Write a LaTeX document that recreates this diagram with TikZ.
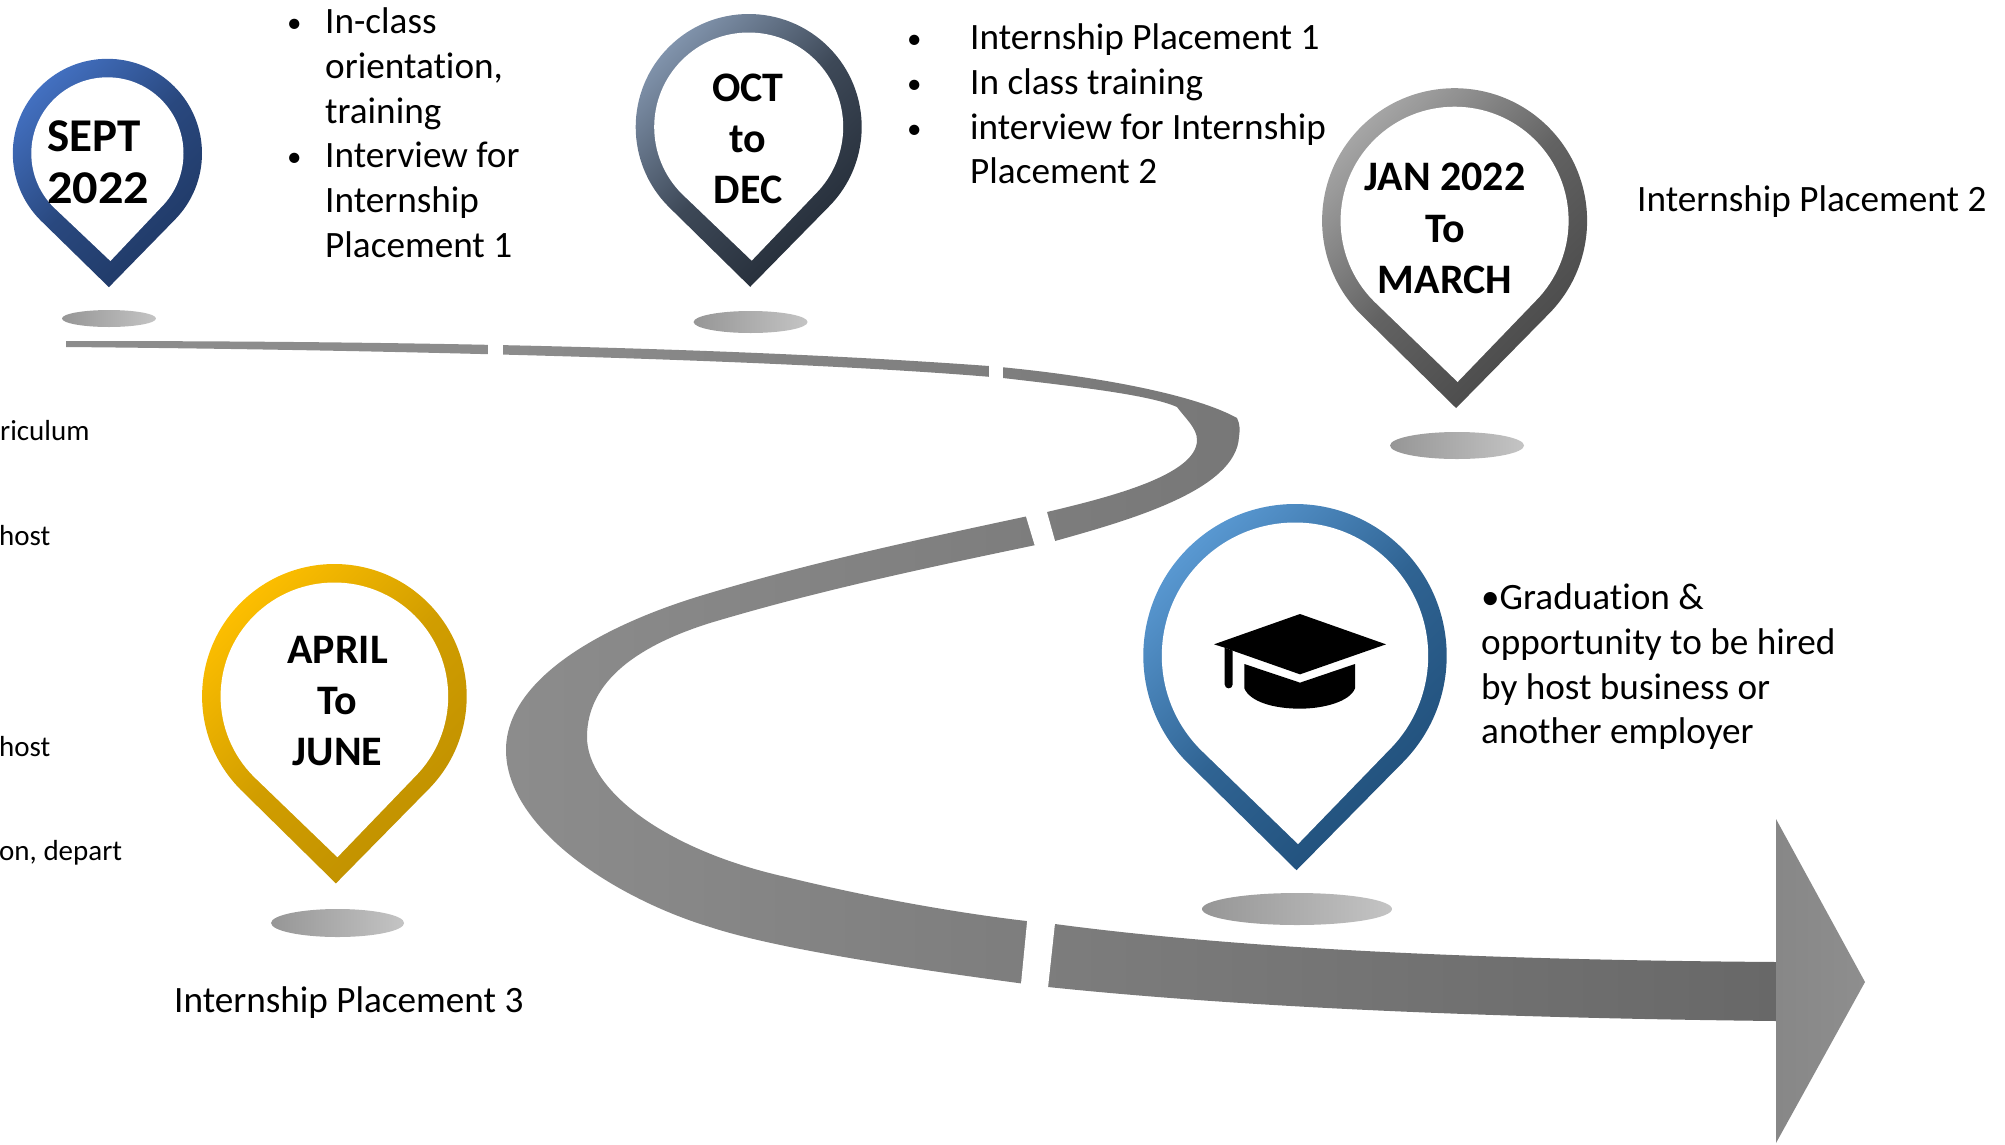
\documentclass[tikz,border=0pt]{standalone}
\usepackage{fontspec}
\usepackage{graphicx}
\setmainfont{Carlito}[Ligatures=NoCommon]
\usetikzlibrary{shapes.geometric}
\definecolor{gA}{HTML}{8C8C8C}
\definecolor{gB}{HTML}{686868}
\definecolor{pOneA}{HTML}{4472C4}\definecolor{pOneB}{HTML}{1F3864}
\definecolor{pTwoA}{HTML}{8497B0}\definecolor{pTwoB}{HTML}{222A35}
\definecolor{pThrA}{HTML}{A9A9A9}\definecolor{pThrB}{HTML}{474747}
\definecolor{pFouA}{HTML}{5B9BD5}\definecolor{pFouB}{HTML}{1F4E79}
\definecolor{pFivA}{HTML}{FFC000}\definecolor{pFivB}{HTML}{BF9000}
\definecolor{shA}{HTML}{969696}\definecolor{shB}{HTML}{C4C4C4}
\definecolor{headA}{HTML}{878787}\definecolor{headB}{HTML}{8E8E8E}
\pgfdeclarehorizontalshading{roadshade}{100bp}{color(0bp)=(gA); color(25bp)=(gA); color(38bp)=(gA); color(75bp)=(gB); color(100bp)=(gB)}
\newcommand{\pinshape}[5]{%
  \shade[left color=#4,right color=#5,middle color=#5!72!#4,shading angle=45]
    ({#1+1.5},{#2+1.4142*#3}) -- ({#1-0.7071*#3},{#2+0.7071*#3})
    arc[start angle=135,end angle=405,radius=#3] -- cycle;
  \fill[white]
    ({#1+3},{#2+1.4142*(#3-18.5)}) -- ({#1-0.7071*(#3-18.5)},{#2+0.7071*(#3-18.5)})
    arc[start angle=135,end angle=405,radius=#3-18.5] -- cycle;
}
\newcommand{\pinshadow}[4]{%
  \shade[left color=shA,right color=shB] (#1,#2) ellipse [x radius=#3,y radius=#4];
}
\newcommand{\smallbul}{\raisebox{1bp}{\fontsize{29bp}{30bp}\selectfont\textbullet}}
\newcommand{\bul}{\makebox[38bp][l]{\smallbul}}
\newcommand{\widebul}{\makebox[63bp][l]{\smallbul}}
\newcommand{\ind}{\hspace*{38bp}}
\tikzset{
  body/.style={font=\fontsize{37.2bp}{44.8bp}\selectfont,align=left,inner sep=0pt,anchor=north west},
  single/.style={font=\fontsize{37.2bp}{44.8bp}\selectfont,inner sep=0pt,anchor=west},
  pinlabel/.style={font=\fontsize{42bp}{51.3bp}\selectfont\bfseries,align=center,inner sep=0pt},
  cutoff/.style={font=\fontsize{29bp}{32bp}\selectfont,inner sep=0pt,anchor=west},
}
\begin{document}
\begin{tikzpicture}[x=1bp,y=1bp,yscale=-1]
\useasboundingbox (0,0) rectangle (2005,1144);
% road
\path[shade,shading=roadshade]
  (66,341) .. controls (350,341) and (700,345) .. (989,366)
  .. controls (1080,374) and (1190,392) .. (1237,418)
  .. controls (1240,424) and (1240,430) .. (1239,437)
  .. controls (1236,490) and (1130,520) .. (1055,541)
  .. controls (930,567) and (820,590) .. (710,623)
  .. controls (640,645) and (587,680) .. (587,737)
  .. controls (587,790) and (665,850) .. (786,877)
  .. controls (880,900) and (980,917) .. (1055,924)
  .. controls (1250,950) and (1500,960) .. (1776,962)
  -- (1776,1021)
  .. controls (1500,1018) and (1250,1008) .. (1048,987)
  .. controls (920,970) and (780,950) .. (710,927)
  .. controls (620,900) and (506,830) .. (506,750)
  .. controls (506,680) and (600,625) .. (710,593)
  .. controls (820,560) and (930,537) .. (1047,512)
  .. controls (1110,497) and (1197,475) .. (1197,440)
  .. controls (1197,428) and (1185,418) .. (1177,407)
  .. controls (1150,395) and (1080,387) .. (1003,378)
  .. controls (800,360) and (400,350) .. (66,347)
  -- cycle;
% gaps
\fill[white] (488,335) rectangle (503,365);
\fill[white] (989,358) rectangle (1003,385);
\fill[white] (1024,510) -- (1037,553) -- (1057,548) -- (1045,505) -- cycle;
\fill[white] (1028,912) -- (1020,994) -- (1047,997) -- (1056,914) -- cycle;
% arrow head
\shade[left color=headA,right color=headB] (1776,819) -- (1865,982) -- (1776,1143) -- cycle;
% shadows
\pinshadow{109}{318.5}{47}{8.5}
\pinshadow{750.6}{322}{57}{11}
\pinshadow{1457}{445.5}{67}{13.5}
\pinshadow{1297}{909}{95}{16}
\pinshadow{337.6}{923}{66.5}{14}
% pins
\pinshape{107.4}{153.4}{94.6}{pOneA}{pOneB}
\pinshape{748.7}{127}{113}{pTwoA}{pTwoB}
\pinshape{1454.6}{220.7}{132.5}{pThrA}{pThrB}
\pinshape{1295}{655.7}{151.7}{pFouA}{pFouB}
\pinshape{334.4}{696.3}{132.3}{pFivA}{pFivB}
% graduation cap
\begin{scope}[shift={(1100,480)},scale=0.33333]
  \fill[black] (342,493) -- (600,402) -- (858,493) -- (600,583) -- (398,512) -- (374,503) -- cycle;
  \fill[black] (374,503) -- (398,512) -- (398,613) .. controls (398,629) and (374,629) .. (374,613) -- cycle;
  \fill[black] (433,552) -- (600,608) -- (765,552) -- (765,625) .. controls (750,665) and (670,686) .. (600,686) .. controls (520,686) and (450,665) .. (433,625) -- cycle;
\end{scope}
% pin labels
\node[pinlabel,align=left,anchor=north west,font=\fontsize{47bp}{52bp}\selectfont\bfseries] (sept) at (47,120) {SEPT\\\scalebox{1.07}[1]{2022}};
\node[pinlabel] (oct) at (748,139) {OCT\\to\\DEC};
\node[pinlabel] (jan) at (1445,228.5) {JAN 2022\\To\\MARCH};
\node[pinlabel] (april) at (337.6,701) {APRIL\\To\\JUNE};
% body text
\node[body] (tone) at (287,7.5) {\bul In-class\\\ind orientation,\\\ind training\\\bul Interview for\\\ind Internship\\\ind Placement 1};
\node[body] (ttwo) at (907,23.5) {\widebul Internship Placement 1\\\widebul In class training\\\widebul interview for Internship\\\hspace*{63bp}Placement 2};
\node[single] (tthr) at (1637,202) {Internship Placement 2};
\node[body] (tfou) at (1481,583.5) {\textbullet Graduation \&\\opportunity to be hired\\by host business or\\another employer};
\node[single] (tfiv) at (174,1003) {Internship Placement 3};
% cut-off text at left edge
\node[cutoff] (cone) at (0,431) {riculum};
\node[cutoff] (ctwo) at (-1,536) {host};
\node[cutoff] (cthr) at (-1,747) {host};
\node[cutoff] (cfou) at (-1,853) {on, depart};
\end{tikzpicture}
\end{document}
